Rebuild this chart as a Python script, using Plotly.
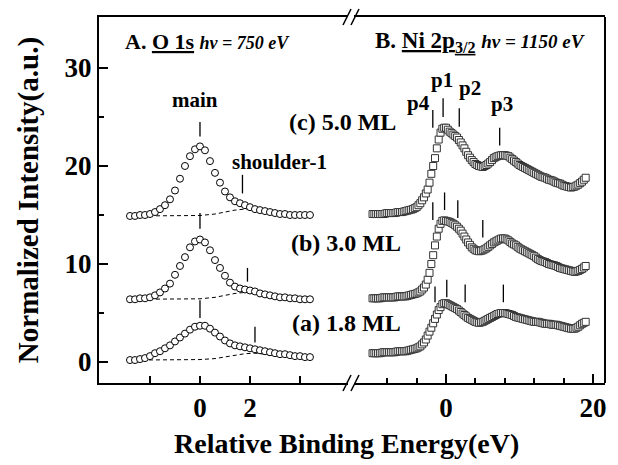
import plotly.graph_objects as go

# ---------------- data ----------------
o1s_x = [-2.8, -2.6, -2.4, -2.2, -2.0, -1.8, -1.6, -1.4, -1.2, -1.0, -0.8, -0.6, -0.4, -0.2,
         0.0, 0.2, 0.4, 0.6, 0.8, 1.0, 1.2, 1.4, 1.6, 1.8, 2.0, 2.2, 2.4, 2.6, 2.8, 3.0,
         3.2, 3.4, 3.6, 3.8, 4.0, 4.2, 4.4]
o1s_c = [14.9, 14.9, 15.0, 15.0, 15.1, 15.3, 15.6, 16.0, 16.6, 17.5, 18.7, 20.0, 21.0, 21.7,
         22.0, 21.6, 20.5, 19.3, 18.3, 17.4, 16.8, 16.4, 16.2, 16.0, 15.8, 15.6, 15.5, 15.4,
         15.3, 15.2, 15.1, 15.1, 15.0, 15.0, 15.0, 15.0, 15.0]
o1s_b = [6.4, 6.4, 6.5, 6.5, 6.6, 6.8, 7.1, 7.5, 8.0, 8.9, 9.8, 10.7, 11.7, 12.3,
         12.5, 12.2, 11.4, 10.4, 9.6, 8.8, 8.1, 7.7, 7.5, 7.4, 7.3, 7.2, 7.0, 6.9,
         6.8, 6.7, 6.6, 6.6, 6.5, 6.5, 6.4, 6.4, 6.4]
o1s_a = [0.2, 0.2, 0.3, 0.4, 0.6, 0.9, 1.1, 1.4, 1.7, 2.1, 2.5, 2.9, 3.3, 3.6,
         3.7, 3.7, 3.4, 3.0, 2.6, 2.2, 1.9, 1.7, 1.6, 1.5, 1.4, 1.3, 1.2, 1.1,
         1.0, 0.9, 0.8, 0.8, 0.7, 0.6, 0.6, 0.5, 0.5]

bg_x = [-2.6, -2.0, -1.0, 0.0, 0.6, 1.0, 1.4, 1.8, 2.2, 2.6, 3.0]
bg_c = [14.9, 14.9, 14.9, 14.95, 15.1, 15.3, 15.5, 15.6, 15.5, 15.3, 15.1]
bg_b = [6.4, 6.4, 6.4, 6.45, 6.6, 6.8, 7.0, 7.1, 7.0, 6.8, 6.6]
bg_a = [0.2, 0.2, 0.2, 0.25, 0.35, 0.5, 0.7, 0.85, 0.9, 0.8, 0.6]

ni_x = [-10.0, -9.75, -9.5, -9.25, -9.0, -8.75, -8.5, -8.25, -8.0, -7.75, -7.5, -7.25,
        -7.0, -6.75, -6.5, -6.25, -6.0, -5.75, -5.5, -5.25, -5.0, -4.75, -4.5, -4.25,
        -4.0, -3.75, -3.5, -3.25, -3.0, -2.75, -2.5, -2.25, -2.0, -1.75, -1.5, -1.25,
        -1.0, -0.75, -0.5, -0.25, 0.0, 0.25, 0.5, 0.75, 1.0, 1.25, 1.5, 1.75,
        2.0, 2.25, 2.5, 2.75, 3.0, 3.25, 3.5, 3.75, 4.0, 4.25, 4.5, 4.75,
        5.0, 5.25, 5.5, 5.75, 6.0, 6.25, 6.5, 6.75, 7.0, 7.25, 7.5, 7.75,
        8.0, 8.25, 8.5, 8.75, 9.0, 9.25, 9.5, 9.75, 10.0, 10.25, 10.5, 10.75,
        11.0, 11.25, 11.5, 11.75, 12.0, 12.25, 12.5, 12.75, 13.0, 13.25, 13.5, 13.75,
        14.0, 14.25, 14.5, 14.75, 15.0, 15.25, 15.5, 15.75, 16.0, 16.25, 16.5, 16.75,
        17.0, 17.25, 17.5, 17.75, 18.0, 18.25, 18.5, 18.75, 19.0]
ni_c = [15.1, 15.1, 15.1, 15.1, 15.1, 15.1, 15.1, 15.15, 15.2, 15.2, 15.2, 15.2,
        15.2, 15.25, 15.3, 15.3, 15.3, 15.35, 15.4, 15.45, 15.5, 15.55, 15.6, 15.7,
        15.8, 16.0, 16.2, 16.5, 16.8, 17.2, 17.6, 18.3, 19.2, 20.0, 20.8, 21.8,
        22.7, 23.4, 23.8, 23.9, 23.9, 23.7, 23.5, 23.35, 23.2, 23.05, 22.9, 22.65,
        22.4, 22.1, 21.8, 21.45, 21.1, 20.85, 20.6, 20.4, 20.2, 20.1, 20.0, 19.95,
        19.9, 20.0, 20.1, 20.25, 20.4, 20.6, 20.8, 20.9, 21.0, 21.05, 21.1, 21.1,
        21.1, 21.05, 21.0, 20.85, 20.7, 20.55, 20.4, 20.25, 20.1, 20.0, 19.9, 19.8,
        19.7, 19.6, 19.5, 19.4, 19.3, 19.2, 19.1, 19.0, 18.9, 18.85, 18.8, 18.7,
        18.6, 18.55, 18.5, 18.4, 18.3, 18.25, 18.2, 18.1, 18.0, 17.95, 17.9, 17.85,
        17.8, 17.85, 17.9, 18.0, 18.1, 18.25, 18.4, 18.6, 18.8]
ni_b = [6.5, 6.5, 6.5, 6.5, 6.5, 6.55, 6.6, 6.6, 6.6, 6.6, 6.6, 6.6,
        6.6, 6.65, 6.7, 6.7, 6.7, 6.7, 6.7, 6.75, 6.8, 6.85, 6.9, 6.95,
        7.0, 7.1, 7.2, 7.4, 7.6, 7.9, 8.4, 9.1, 10.0, 10.9, 11.9, 12.8,
        13.6, 14.1, 14.4, 14.45, 14.4, 14.35, 14.3, 14.2, 14.1, 13.95, 13.8, 13.6,
        13.4, 13.1, 12.8, 12.5, 12.2, 11.95, 11.7, 11.55, 11.4, 11.35, 11.3, 11.35,
        11.4, 11.5, 11.6, 11.75, 11.9, 12.05, 12.2, 12.3, 12.4, 12.5, 12.6, 12.6,
        12.6, 12.5, 12.4, 12.25, 12.1, 12.0, 11.9, 11.75, 11.6, 11.5, 11.4, 11.3,
        11.2, 11.1, 11.0, 10.9, 10.8, 10.65, 10.5, 10.4, 10.3, 10.25, 10.2, 10.1,
        10.0, 9.95, 9.9, 9.85, 9.8, 9.7, 9.6, 9.55, 9.5, 9.45, 9.4, 9.35,
        9.3, 9.25, 9.2, 9.25, 9.3, 9.4, 9.5, 9.65, 9.8]
ni_a = [0.9, 0.9, 0.9, 0.9, 0.9, 0.95, 1.0, 1.0, 1.0, 1.0, 1.0, 1.0,
        1.0, 1.05, 1.1, 1.1, 1.1, 1.1, 1.1, 1.15, 1.2, 1.25, 1.3, 1.35,
        1.4, 1.5, 1.6, 1.8, 2.0, 2.3, 2.7, 3.1, 3.5, 3.95, 4.4, 4.85,
        5.3, 5.6, 5.9, 6.0, 6.0, 5.9, 5.8, 5.7, 5.6, 5.5, 5.4, 5.25,
        5.1, 4.95, 4.8, 4.65, 4.5, 4.4, 4.3, 4.2, 4.1, 4.05, 4.0, 4.05,
        4.1, 4.2, 4.3, 4.4, 4.5, 4.6, 4.7, 4.8, 4.9, 4.95, 5.0, 5.0,
        5.0, 4.95, 4.9, 4.85, 4.8, 4.7, 4.6, 4.55, 4.5, 4.45, 4.4, 4.35,
        4.3, 4.25, 4.2, 4.15, 4.1, 4.1, 4.1, 4.05, 4.0, 3.95, 3.9, 3.9,
        3.9, 3.85, 3.8, 3.8, 3.8, 3.75, 3.7, 3.65, 3.6, 3.55, 3.5, 3.45,
        3.4, 3.4, 3.4, 3.5, 3.6, 3.75, 3.9, 4.0, 4.1]

# peak marker positions (x, y_low, y_high)
o1s_marks = [(0.0, 23.0, 24.5), (1.7, 17.2, 19.1),
             (0.0, 13.6, 15.2), (1.9, 8.2, 9.6),
             (0.0, 4.5, 6.3), (2.2, 2.0, 3.6)]
ni_marks = [(-1.8, 23.9, 25.7), (-0.4, 25.0, 26.9), (1.8, 24.0, 25.9), (7.3, 22.1, 23.9),
            (-1.8, 14.5, 16.3), (-0.2, 15.5, 17.3), (1.6, 14.7, 16.5), (5.0, 12.7, 14.5),
            (-1.5, 6.1, 7.7), (0.1, 6.6, 8.4), (2.6, 6.1, 7.9), (7.8, 6.1, 7.9)]

FONT = "Liberation Serif"

fig = go.Figure()

# dashed backgrounds
for yy in (bg_c, bg_b, bg_a):
    fig.add_trace(go.Scatter(x=bg_x, y=yy, mode="lines", xaxis="x", yaxis="y",
                             line=dict(color="black", width=1, dash="4px,3px"),
                             hoverinfo="skip"))
# O 1s circles
for yy in (o1s_c, o1s_b, o1s_a):
    fig.add_trace(go.Scatter(x=o1s_x, y=yy, mode="markers", xaxis="x", yaxis="y",
                             marker=dict(symbol="circle", size=7, color="white",
                                         line=dict(color="black", width=1))))
# Ni 2p squares
for yy in (ni_c, ni_b, ni_a):
    fig.add_trace(go.Scatter(x=ni_x, y=yy, mode="markers", xaxis="x2", yaxis="y",
                             marker=dict(symbol="square", size=7, color="white",
                                         line=dict(color="#333", width=1))))


def seg(marks):
    xs, ys = [], []
    for (x, y0, y1) in marks:
        xs += [x, x, None]
        ys += [y0, y1, None]
    return xs, ys


mx, my = seg(o1s_marks)
fig.add_trace(go.Scatter(x=mx, y=my, mode="lines", xaxis="x", yaxis="y",
                         line=dict(color="black", width=1.3)))
mx, my = seg(ni_marks)
fig.add_trace(go.Scatter(x=mx, y=my, mode="lines", xaxis="x2", yaxis="y",
                         line=dict(color="black", width=1.3)))

ann = []


def A(text, x, y, xref="x", yref="y", size=22, xanchor="center", yanchor="middle", **kw):
    ann.append(dict(text=text, x=x, y=y, xref=xref, yref=yref, showarrow=False,
                    xanchor=xanchor, yanchor=yanchor,
                    font=dict(family=FONT, size=size, color="black", weight="bold"), **kw))


A("A. <u>O 1s</u> <i><span style='font-size:18px'>hν = 750 eV</span></i>",
  -3.08, 32.7, xanchor="left")
A("B. <u>Ni 2p<sub>3/2</sub></u> <i><span style='font-size:19px'>hν = 1150 eV</span></i>",
  -9.93, 32.7, xref="x2", xanchor="left", size=23)
A("main", -0.2, 26.7, size=21)
A("shoulder-1", 3.2, 20.4, size=21)
A("(c) 5.0 ML", -6.5, 24.5, xref="x2", xanchor="right", size=24)
A("(b) 3.0 ML", -5.85, 12.1, xref="x2", xanchor="right", size=24)
A("(a) 1.8 ML", -5.85, 4.0, xref="x2", xanchor="right", size=24)
A("p4", -3.8, 26.4, xref="x2", size=21)
A("p1", -0.5, 28.8, xref="x2", size=21)
A("p2", 3.3, 28.0, xref="x2", size=21)
A("p3", 7.6, 26.3, xref="x2", size=21)
A("Relative Binding Energy(eV)", 0.49, -0.164, xref="paper", yref="paper", size=28)
A("Normalized Intensity(a.u.)", -0.14, 0.5, xref="paper", yref="paper", size=29, textangle=-90)

# frame pieces + axis break marks
shapes = [dict(type="line", xref="paper", yref="paper", x0=1, x1=1, y0=0, y1=1,
               line=dict(color="black", width=2))]
W, H = 506.0, 366.0
for xc in (347, 355):
    px = (xc - 99) / W
    for yb in (0.0, 1.0):
        shapes.append(dict(type="line", xref="paper", yref="paper",
                           x0=px - 4 / W, x1=px + 4 / W, y0=yb - 8 / H, y1=yb + 8 / H,
                           line=dict(color="black", width=1.5)))

tickfont = dict(family=FONT, size=27, color="black", weight="bold")
axcommon = dict(showline=True, linewidth=2, linecolor="black", mirror=True, ticks="inside",
                tickwidth=2, tickcolor="black", showgrid=False, zeroline=False,
                tickfont=tickfont)

fig.update_layout(
    width=618, height=465,
    margin=dict(l=99, r=13, t=17, b=82),
    paper_bgcolor="white", plot_bgcolor="white",
    showlegend=False,
    xaxis=dict(domain=[0, 0.492], range=[-4.04, 5.92], anchor="y",
               tickvals=[0, 2], ticktext=["0", "2"], ticklen=7,
               minor=dict(tickvals=[-2, 4], ticklen=7, tickwidth=2, ticks="inside",
                          tickcolor="black"),
               **axcommon),
    xaxis2=dict(domain=[0.504, 1], range=[-12.52, 21.63], anchor="y",
                tickvals=[0, 20], ticktext=["0", "20"], ticklen=9,
                minor=dict(tickvals=[-8, -4, 4, 8, 12, 16], ticklen=5, tickwidth=2,
                           ticks="inside", tickcolor="black"),
                **axcommon),
    yaxis=dict(domain=[0, 1], range=[-2.14, 35.2], anchor="x",
               tickvals=[0, 10, 20, 30], ticklen=9,
               minor=dict(tickvals=[5, 15, 25], ticklen=5, tickwidth=2, ticks="inside",
                          tickcolor="black"),
               showline=True, linewidth=2, linecolor="black", ticks="inside",
               tickwidth=2, tickcolor="black", showgrid=False, zeroline=False,
               tickfont=tickfont),
    annotations=ann,
    shapes=shapes,
)

fig.write_html("out.html")
